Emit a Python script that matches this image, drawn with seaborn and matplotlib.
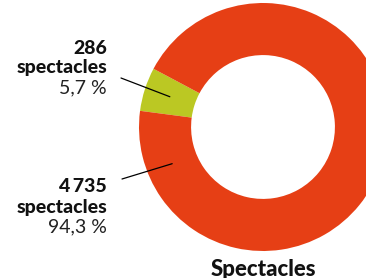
import numpy as np
import matplotlib.pyplot as plt
import seaborn as sns

counts = [286, 4735]
count_labels = ["286", "4\u2009735"]
pct_labels = ["5,7 %", "94,3 %"]
colors = ["#BBC823", "#E63F15"]
title = "Spectacles"

sns.set_theme(style="white")
plt.rcParams['font.family'] = ['Lato', 'DejaVu Sans']

fig = plt.figure(figsize=(3.66, 2.78), dpi=100)
ax = fig.add_axes([0, 0, 1, 1])

cx, cy, r_out = 263, 151, 124
ring = 0.42
ax.pie(counts, colors=colors, startangle=152, counterclock=True,
       radius=r_out, center=(cx, cy), frame=True,
       wedgeprops=dict(width=r_out * ring, linewidth=0))
ax.set_xlim(0, 366)
ax.set_ylim(0, 278)
ax.set_aspect('equal')
ax.axis('off')

r_mid = r_out * (1 - ring / 2)
angles = [162, 202]
text_y = [230, 91]
line_start = [(121, 200), (122, 99)]
for i in range(2):
    a = np.deg2rad(angles[i])
    px, py = cx + r_mid * np.cos(a), cy + r_mid * np.sin(a)
    ax.plot([line_start[i][0], px], [line_start[i][1], py], color='black', lw=0.9)
    y0 = text_y[i]
    ax.text(107, y0, count_labels[i], ha='right', va='center', fontsize=14,
            fontweight='black', color='#111111')
    ax.text(107, y0 - 20, "spectacles", ha='right', va='center', fontsize=14,
            fontweight='black', color='#111111')
    ax.text(107, y0 - 40, pct_labels[i], ha='right', va='center', fontsize=14,
            color='#222222')

ax.text(cx, 9, title, ha='center', va='center', fontsize=16,
        fontweight='black', color='#111111')

fig.savefig("out.png", dpi=100)
